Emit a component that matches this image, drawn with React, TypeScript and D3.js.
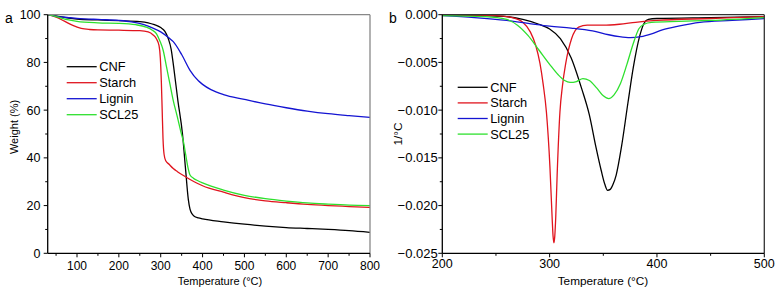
import React from "react";
import * as d3 from "d3";

type P = [number, number];

const seriesNames = ["CNF", "Starch", "Lignin", "SCL25"];
const seriesColors = ["#000000", "#e0141e", "#1414d2", "#2ee02e"];

// Panel a: TGA weight (%) vs temperature
const tgaCNF: P[] = [[30,100],[50,99.5],[80,98.6],[100,98.2],[150,97.8],[200,97.5],[250,97.1],[270,96.6],[285,95.8],[300,94.6],[310,93],[318,90],[325,85.5],[331,78],[341,64],[352,50],[359,36],[366,22.5],[370,18.5],[375,16.5],[380,15.5],[390,14.8],[400,14.4],[450,13.2],[500,12.2],[550,11.4],[600,10.8],[650,10.4],[700,10],[750,9.5],[800,8.8]];
const tgaStarch: P[] = [[30,100],[50,99],[70,97.3],[90,95.5],[110,94.3],[130,93.8],[150,93.6],[200,93.5],[250,93.3],[270,92.8],[282,91.5],[290,89.8],[296,87],[299,82],[301.5,72],[303.5,60],[305.5,48],[308,41.5],[312,38.8],[320,37.3],[330,35.5],[340,34.2],[360,32],[380,30],[400,28.3],[450,25.6],[500,23.3],[550,22],[600,21.2],[650,20.5],[700,20],[750,19.6],[800,19.2]];
const tgaLignin: P[] = [[30,100],[50,99.3],[80,98.8],[100,98.5],[150,98],[200,97.6],[230,97],[260,95.8],[280,94.5],[300,92.8],[320,90.2],[330,88.7],[350,83.3],[370,76.7],[390,72.3],[400,70.8],[420,68.6],[450,66.5],[500,64.5],[550,62.6],[600,61],[650,59.6],[700,58.5],[750,57.7],[800,57]];
const tgaSCL25: P[] = [[30,100],[50,99.2],[80,97.8],[100,97.2],[150,96.6],[200,96.4],[240,95.8],[265,94.8],[280,93.5],[290,92],[298,89],[306,85],[314,78],[322,71],[330,64],[340,57],[348,51],[354,47],[360,41],[365,36],[370,32.8],[378,31.5],[390,30.3],[400,29.5],[450,26.5],[500,24.3],[550,22.9],[600,21.9],[650,21.1],[700,20.6],[750,20.2],[800,20]];

// Panel b: DTG (1/°C) vs temperature
const dtgCNF: P[] = [[200,0],[240,-0.0001],[260,-0.0002],[275,-0.0005],[290,-0.001],[300,-0.0015],[310,-0.0025],[320,-0.0045],[330,-0.0078],[337,-0.0105],[343,-0.0138],[348,-0.0163],[351.5,-0.0178],[354,-0.0184],[356.5,-0.0183],[359,-0.0178],[362,-0.0168],[367,-0.0138],[373,-0.0092],[378,-0.0055],[384,-0.0022],[388,-0.0009],[392,-0.0005],[400,-0.0004],[450,-0.0003],[500,-0.0002]];
const dtgStarch: P[] = [[200,0],[250,-0.0001],[265,-0.0003],[275,-0.0008],[282,-0.0018],[287,-0.0032],[291,-0.0051],[294,-0.0073],[297,-0.0102],[300.3,-0.016],[302.3,-0.0212],[303.2,-0.0232],[304,-0.0239],[304.8,-0.0232],[305.7,-0.0212],[307,-0.0168],[309.6,-0.0102],[312,-0.0074],[315,-0.0051],[320.5,-0.0025],[327,-0.0013],[335,-0.0011],[350,-0.0011],[365,-0.001],[380,-0.0008],[400,-0.0006],[450,-0.0004],[500,-0.0002]];
const dtgLignin: P[] = [[200,-0.0001],[230,-0.0003],[260,-0.0006],[280,-0.0009],[300,-0.0012],[320,-0.0014],[340,-0.0017],[355,-0.0021],[365,-0.0023],[375,-0.0024],[385,-0.0023],[395,-0.002],[405,-0.0016],[420,-0.0012],[440,-0.0008],[470,-0.0006],[500,-0.0004]];
const dtgSCL25: P[] = [[200,-0.0001],[240,-0.0002],[260,-0.0005],[270,-0.0011],[280,-0.0022],[290,-0.0037],[300,-0.0052],[308,-0.0063],[314,-0.0069],[319,-0.0071],[325,-0.007],[331,-0.0067],[337,-0.0069],[344,-0.0077],[350,-0.0085],[355,-0.0088],[360,-0.0084],[366,-0.0072],[372,-0.0052],[378,-0.003],[383,-0.0015],[388,-0.001],[395,-0.0008],[420,-0.0007],[450,-0.0006],[500,-0.0003]];

const aXMajor = [100, 200, 300, 400, 500, 600, 700, 800];
const aXMinor = [50, 150, 250, 350, 450, 550, 650, 750];
const aYMajor = [0, 20, 40, 60, 80, 100];
const aYMinor = [10, 30, 50, 70, 90];
const bXMajor = [200, 300, 400, 500];
const bXMinor = [250, 350, 450];
const bYMajor = [0, -0.005, -0.01, -0.015, -0.02, -0.025];
const bYMinor = [-0.0025, -0.0075, -0.0125, -0.0175, -0.0225];

const FONT = "Liberation Sans, Arial, sans-serif";

interface PanelProps {
  letter: string;
  letterX: number;
  x: d3.ScaleLinear<number, number>;
  y: d3.ScaleLinear<number, number>;
  xMajor: number[];
  xMinor: number[];
  yMajor: number[];
  yMinor: number[];
  yFmt: (v: number) => string;
  data: P[][];
  frameColor: string;
  yTitle: string;
  yTitleX: number;
  yTitleY: number;
  yLabelX: number;
  xLabelY: number;
  xTitleX: number;
  tickFont: number;
  titleFont: number;
  legX: number;
  legY: number;
  legStep: number;
}

function Panel(p: PanelProps) {
  const [x0, x1] = p.x.range();
  const [y0, y1] = p.y.range(); // y0 bottom, y1 top
  const line = d3
    .line<P>()
    .x((d) => p.x(d[0]))
    .y((d) => p.y(d[1]))
    .curve(d3.curveMonotoneX);
  return (
    <g>
      <defs>
        <clipPath id={"clip" + p.letter}>
          <rect x={x0} y={y1 - 1} width={x1 - x0} height={y0 - y1 + 1} />
        </clipPath>
      </defs>
      <g clipPath={`url(#clip${p.letter})`}>
        {p.data.map((d, i) => (
          <path key={i} d={line(d) || ""} fill="none" stroke={seriesColors[i]} strokeWidth={1.3} />
        ))}
      </g>
      {/* frame */}
      <line x1={x0} x2={x1} y1={y1} y2={y1} stroke={p.frameColor} strokeWidth={1.3} />
      <line x1={x1} x2={x1} y1={y1} y2={y0} stroke={p.frameColor} strokeWidth={1.3} />
      <line x1={x0} x2={x1} y1={y0} y2={y0} stroke="#000" strokeWidth={1.3} />
      <line x1={x0} x2={x0} y1={y1} y2={y0} stroke="#000" strokeWidth={1.3} />
      {p.xMajor.map((t) => (
        <g key={"xm" + t}>
          <line x1={p.x(t)} x2={p.x(t)} y1={y0} y2={y0 + 4} stroke="#000" strokeWidth={1} />
          <text x={p.x(t)} y={p.xLabelY} textAnchor="middle" fontSize={p.tickFont} fontFamily={FONT}>
            {t}
          </text>
        </g>
      ))}
      {p.xMinor.map((t) => (
        <line key={"xn" + t} x1={p.x(t)} x2={p.x(t)} y1={y0} y2={y0 + 2.5} stroke="#000" strokeWidth={1} />
      ))}
      {p.yMajor.map((t) => (
        <g key={"ym" + t}>
          <line x1={x0 - 4} x2={x0} y1={p.y(t)} y2={p.y(t)} stroke="#000" strokeWidth={1} />
          <text x={p.yLabelX} y={p.y(t) + 4.5} textAnchor="end" fontSize={p.tickFont + 0.5} fontFamily={FONT}>
            {p.yFmt(t)}
          </text>
        </g>
      ))}
      {p.yMinor.map((t) => (
        <line key={"yn" + t} x1={x0 - 2.5} x2={x0} y1={p.y(t)} y2={p.y(t)} stroke="#000" strokeWidth={1} />
      ))}
      <text x={p.xTitleX} y={285} textAnchor="middle" fontSize={p.titleFont} fontFamily={FONT}>
        Temperature (°C)
      </text>
      <text
        transform={`translate(${p.yTitleX},${p.yTitleY}) rotate(-90)`}
        textAnchor="middle"
        fontSize={p.titleFont}
        fontFamily={FONT}
      >
        {p.yTitle}
      </text>
      <text x={p.letterX} y={23} fontSize={14} fontFamily={FONT}>
        {p.letter}
      </text>
      {seriesNames.map((n, i) => (
        <g key={n}>
          <line
            x1={p.legX}
            x2={p.legX + 30}
            y1={p.legY + i * p.legStep}
            y2={p.legY + i * p.legStep}
            stroke={seriesColors[i]}
            strokeWidth={1.3}
          />
          <text x={p.legX + 32.5} y={p.legY + i * p.legStep + 4.5} fontSize={12.8} fontFamily={FONT}>
            {n}
          </text>
        </g>
      ))}
    </g>
  );
}

export default function App() {
  const xa = d3.scaleLinear().domain([30, 800]).range([47.7, 370]);
  const ya = d3.scaleLinear().domain([0, 100]).range([253.3, 14.7]);
  const xb = d3.scaleLinear().domain([200, 500]).range([442.3, 764.3]);
  const yb = d3.scaleLinear().domain([-0.025, 0]).range([253.3, 14.7]);
  const fmtB = d3.format(".3f");
  return (
    <svg
      width={778}
      height={296}
      style={{ position: "absolute", left: 0, top: 0, background: "#fff" }}
    >
      <rect width={778} height={296} fill="#fff" />
      <Panel
        letter="a"
        letterX={5}
        x={xa}
        y={ya}
        xMajor={aXMajor}
        xMinor={aXMinor}
        yMajor={aYMajor}
        yMinor={aYMinor}
        yFmt={(v) => String(v)}
        data={[tgaCNF, tgaStarch, tgaLignin, tgaSCL25]}
        frameColor="#888"
        yTitle="Weight (%)"
        yTitleX={18}
        yTitleY={127}
        yLabelX={40.5}
        xLabelY={270}
        xTitleX={220}
        tickFont={12}
        titleFont={11}
        legX={66.7}
        legY={66.7}
        legStep={16}
      />
      <Panel
        letter="b"
        letterX={389}
        x={xb}
        y={yb}
        xMajor={bXMajor}
        xMinor={bXMinor}
        yMajor={bYMajor}
        yMinor={bYMinor}
        yFmt={(v) => (v === 0 ? "0.000" : fmtB(v))}
        data={[dtgCNF, dtgStarch, dtgLignin, dtgSCL25]}
        frameColor="#333"
        yTitle="1/°C"
        yTitleX={402}
        yTitleY={134}
        yLabelX={437.7}
        xLabelY={268}
        xTitleX={603}
        tickFont={12.5}
        titleFont={11.8}
        legX={457.7}
        legY={87.3}
        legStep={15.6}
      />
    </svg>
  );
}
